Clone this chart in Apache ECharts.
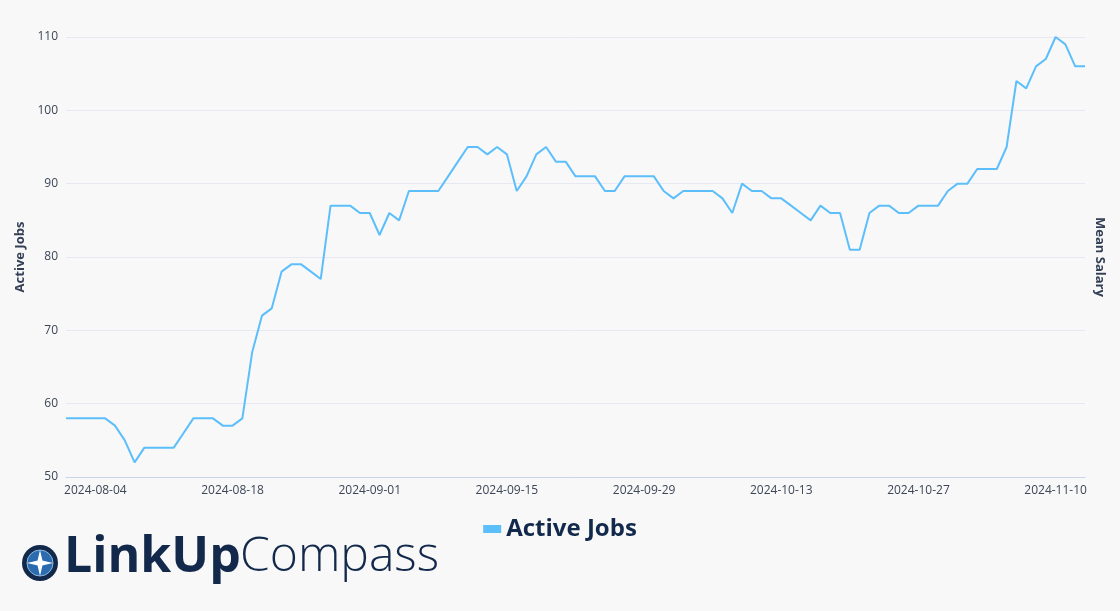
<!DOCTYPE html>
<html><head><meta charset="utf-8">
<script src="https://cdn.jsdelivr.net/npm/echarts@6/dist/echarts.min.js"></script>
<style>html,body{margin:0;background:#f8f8f9}#c{width:1120px;height:611px}</style>
</head><body><div id="c"></div>
<script>
const startDate = '2024-08-01';
const activeJobs = [58,58,58,58,58,57,55,52,54,54,54,54,56,58,58,58,57,57,58,67,72,73,78,79,79,78,77,87,87,87,86,86,83,86,85,89,89,89,89,91,93,95,95,94,95,94,89,91,94,95,93,93,91,91,91,89,89,91,91,91,91,89,88,89,89,89,89,88,86,90,89,89,88,88,87,86,85,87,86,86,81,81,86,87,87,86,86,87,87,87,89,90,90,92,92,92,95,104,103,106,107,110,109,106,106];
const dates = [];
{ const d0 = new Date(startDate + 'T00:00:00Z');
  for (let i = 0; i < activeJobs.length; i++) { const d = new Date(d0.getTime() + i*86400000); dates.push(d.toISOString().slice(0,10)); } }
const chart = echarts.init(document.getElementById('c'));
chart.setOption({
  backgroundColor:'#f8f8f9',
  grid:{left:66,right:35,top:37,bottom:134},
  legend:{bottom:65,left:'center',itemWidth:18,itemHeight:8,icon:'rect',
    textStyle:{fontSize:24,fontWeight:'bold',color:'#13294b',fontFamily:'Open Sans'},data:['Active Jobs']},
  xAxis:{type:'category',data:dates,boundaryGap:false,
    axisLine:{lineStyle:{color:'#ccd6eb'}},axisTick:{show:false},
    axisLabel:{interval:(i)=>(i-3)%14===0,color:'#3d4656',fontSize:12,margin:8,fontFamily:'Open Sans'}},
  yAxis:[{type:'value',min:50,max:110,interval:10,name:'Active Jobs',nameLocation:'middle',nameGap:25,
    nameTextStyle:{fontWeight:'bold',fontSize:13,color:'#333f55',fontFamily:'Open Sans'},
    splitLine:{lineStyle:{color:'#e6e9f2'}},axisLabel:{color:'#3d4656',fontSize:12,fontFamily:'Open Sans'}},
    {type:'value',min:50,max:110,interval:10,name:'Mean Salary',nameLocation:'middle',nameGap:8,nameRotate:-90,
    nameTextStyle:{fontWeight:'bold',fontSize:13,color:'#333f55',fontFamily:'Open Sans'},
    splitLine:{show:false},axisLabel:{show:false},axisLine:{show:false}}],
  series:[{name:'Active Jobs',type:'line',data:activeJobs,showSymbol:false,color:'#5cbffb',lineStyle:{width:2}}],
  graphic:[
    {type:'circle',shape:{cx:40,cy:563,r:18},style:{fill:'#13294b'}},
    {type:'circle',shape:{cx:40,cy:563,r:13},style:{fill:'#2b6cb0',stroke:'#8fb8e0',lineWidth:1}},
    {type:'polygon',shape:{points:[[40,550],[43,563],[40,576],[37,563]]},style:{fill:'#fff'}},
    {type:'polygon',shape:{points:[[27,563],[40,560],[53,563],[40,566]]},style:{fill:'#fff'}},
    {type:'text',left:64,top:533,style:{text:'LinkUp',font:'bold 50px "Open Sans"',fill:'#13294b'}},
    {type:'text',left:240,top:533,style:{text:'Compass',font:'300 48px "Open Sans"',fill:'#13294b'}}
  ]
});
</script></body></html>
